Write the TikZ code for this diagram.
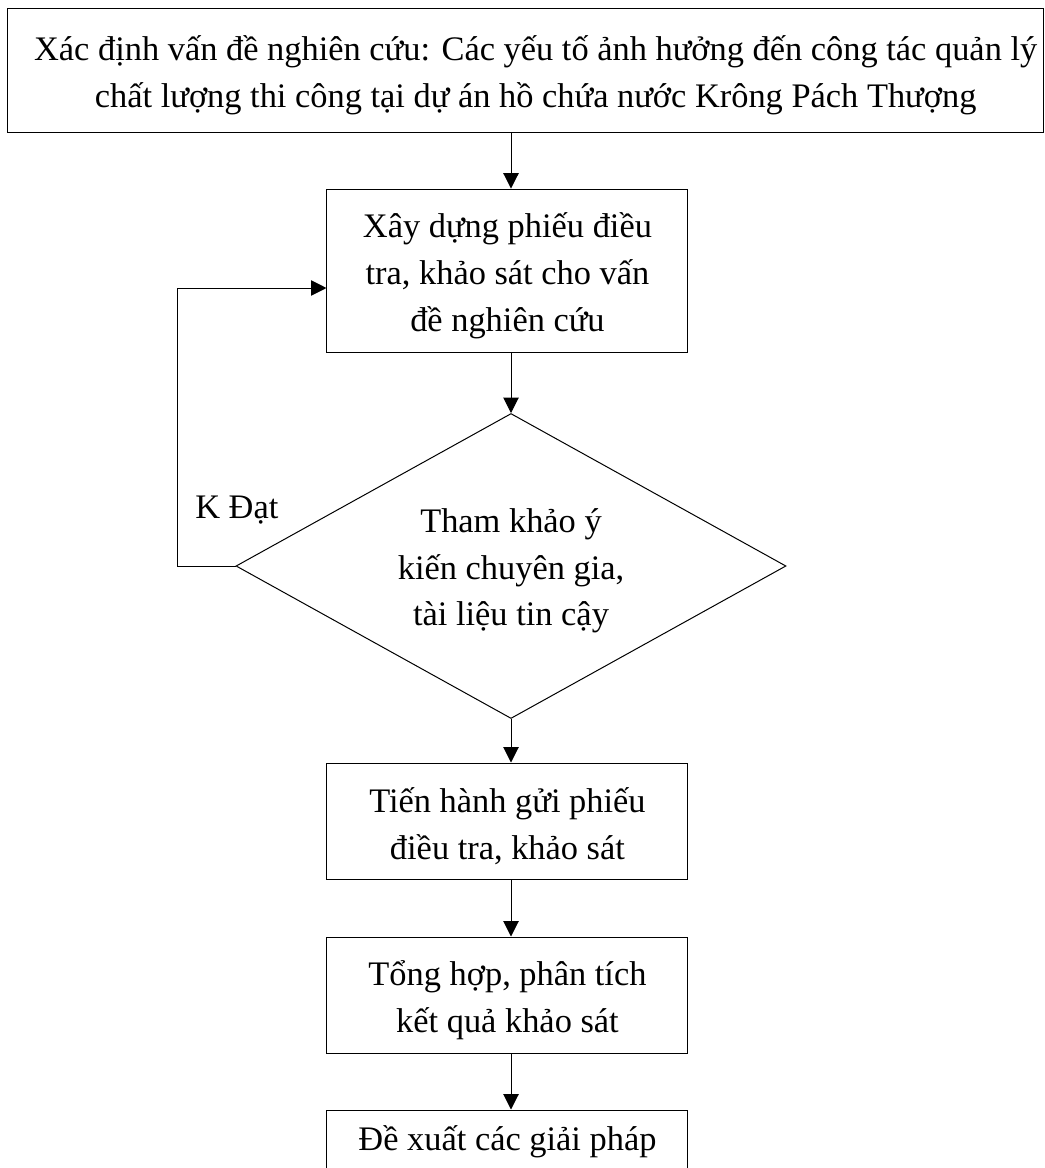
\documentclass[tikz,border=0pt]{standalone}
\usepackage{fontspec}
\setmainfont{Liberation Serif}
\usetikzlibrary{shapes.geometric,arrows.meta}
\begin{document}
\begin{tikzpicture}[x=1pt,y=1pt,
  every node/.style={font=\fontsize{25.8}{35.2}\selectfont, align=center, inner sep=0pt},
  stepbox/.style={draw, line width=0.75pt, rectangle},
  choice/.style={draw, line width=0.75pt, diamond},
  txt/.style={yshift=-3.6pt},
  arr/.style={line width=0.75pt, -{Triangle[length=11.5pt,width=11.5pt]}},
  link/.style={line width=0.75pt}]
\useasboundingbox (0,0) rectangle (783.75,-876);
\clip (0,0) rectangle (783.75,-876);

% process boxes
\node[stepbox, minimum width=777pt, minimum height=93pt] (top) at (393.75,-52.5) {};
\node[stepbox, minimum width=270.75pt, minimum height=122.25pt] (build) at (380.6,-202.9) {};
\node[choice, minimum width=412.5pt, minimum height=228.75pt] (ask) at (383.25,-424.5) {};
\node[stepbox, minimum width=270.75pt, minimum height=87pt] (send) at (380.6,-615.75) {};
\node[stepbox, minimum width=270.75pt, minimum height=87pt] (sum) at (380.6,-746.25) {};
\node[stepbox, minimum width=270.75pt, minimum height=87pt] (prop) at (380.6,-876) {};

% box texts
\node[txt, xshift=8pt] (top-t) at (top)
  {Xác định vấn đề nghiên cứu: Các yếu tố ảnh hưởng đến công tác quản lý\\
   chất lượng thi công tại dự án hồ chứa nước Krông Pách Thượng};
\node[txt] (build-t) at (build) {Xây dựng phiếu điều\\tra, khảo sát cho vấn\\đề nghiên cứu};
\node[txt] (ask-t) at (ask) {Tham khảo ý\\kiến chuyên gia,\\tài liệu tin cậy};
\node[txt] (send-t) at (send) {Tiến hành gửi phiếu\\điều tra, khảo sát};
\node[txt] (sum-t) at (sum) {Tổng hợp, phân tích\\kết quả khảo sát};
\node[anchor=base] (prop-t) at (prop.north |- 0,-862.5) {Đề xuất các giải pháp};

% main flow
\draw[arr] (top.south -| ask.north) -- (build.north -| ask.north);
\draw[arr] (build.south -| ask.north) -- (ask.north);
\draw[arr] (ask.south) -- (send.north -| ask.south);
\draw[arr] (send.south -| ask.south) -- (sum.north -| ask.south);
\draw[arr] (sum.south -| ask.south) -- (prop.north -| ask.south);

% feedback loop
\coordinate (loopbot) at (132.75,-424.5);
\coordinate (looptop) at (132.75,-216);
\draw[link] (ask.west) -- (loopbot) -- (looptop);
\draw[arr] (looptop) -- (looptop -| build.west);
\node[anchor=base west] (kdat) at (146.25,-388.5) {K Đạt};
\end{tikzpicture}
\end{document}
